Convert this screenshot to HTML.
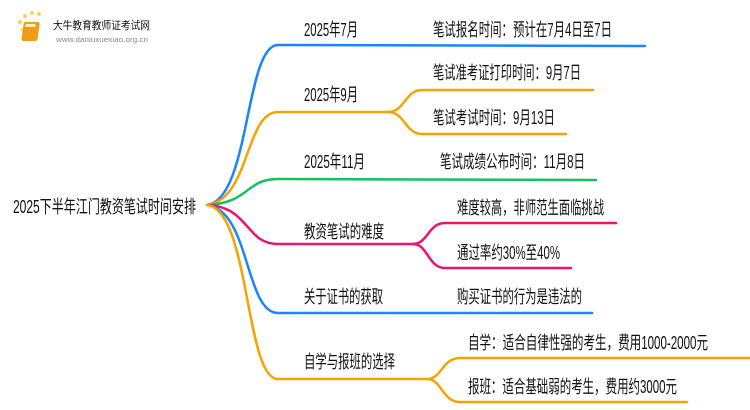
<!DOCTYPE html>
<html><head><meta charset="utf-8"><style>
html,body{margin:0;padding:0;background:#fff;}
svg{display:block}
text{font-family:"Liberation Sans","Noto Sans CJK SC",sans-serif;fill:#111;font-size:18px;}
</style></head><body>
<svg width="750" height="410" viewBox="0 0 750 410" xmlns="http://www.w3.org/2000/svg">
<g fill="none" stroke-width="2.5" stroke-linecap="round">
<path d="M207,205 C250,200 245,45 278,45 L645,46" stroke="#1a85ff"/>
<path d="M207,205 C250,200 245,112 278,112 L388,112" stroke="#f5a300"/>
<path d="M388,112 C405,112 405,90 422,90 L593,90" stroke="#f5a300"/>
<path d="M388,112 C405,112 405,134 422,134 L566,134" stroke="#f5a300"/>
<path d="M207,205 C250,203 245,179 278,179 L596,180" stroke="#16c060"/>
<path d="M207,205 C250,207 245,244 278,244 L413,244" stroke="#f0136c"/>
<path d="M413,244 C428,244 428,223 445,223 L616,223" stroke="#f0136c"/>
<path d="M413,244 C428,244 428,268 445,268 L571,268" stroke="#f0136c"/>
<path d="M207,205 C250,210 245,313 278,313 L592,313" stroke="#1a85ff"/>
<path d="M207,205 C250,210 245,379 278,379 L427,379" stroke="#f5a300"/>
<path d="M427,379 C442,379 442,358 460,358 L750,358" stroke="#f5a300"/>
<path d="M427,379 C442,379 442,402 460,402 L687,402" stroke="#f5a300"/>
</g>
<g>
<circle cx="20" cy="22" r="2" fill="#fbd34d"/><circle cx="25" cy="16" r="2" fill="#fbd34d"/><circle cx="32" cy="13" r="2" fill="#fbd34d"/><circle cx="39" cy="14" r="2" fill="#fbd34d"/><circle cx="22" cy="30" r="1.5" fill="#fbd34d"/><circle cx="24" cy="37" r="1.5" fill="#fbd34d"/>
<rect x="27" y="22" width="16" height="19" rx="2" fill="#f39a16" transform="skewX(-8)"/>
<rect x="29" y="24" width="10" height="3" fill="#fff3c0" transform="skewX(-8)"/>
<text x="53" y="29" style="font-size:11px" textLength="97" lengthAdjust="spacingAndGlyphs">大牛教育教师证考试网</text>
<text x="56" y="42" style="font-size:7px;fill:#888" textLength="92" lengthAdjust="spacingAndGlyphs">www.daniuxuexiao.org.cn</text>
</g>
<g>
<text x="13" y="213" textLength="183" lengthAdjust="spacingAndGlyphs">2025下半年江门教资笔试时间安排</text>
<text x="304" y="36" textLength="54" lengthAdjust="spacingAndGlyphs">2025年7月</text>
<text x="433" y="36" textLength="179" lengthAdjust="spacingAndGlyphs">笔试报名时间：预计在7月4日至7日</text>
<text x="304" y="101" textLength="54" lengthAdjust="spacingAndGlyphs">2025年9月</text>
<text x="433" y="79" textLength="148" lengthAdjust="spacingAndGlyphs">笔试准考证打印时间：9月7日</text>
<text x="433" y="124" textLength="122" lengthAdjust="spacingAndGlyphs">笔试考试时间：9月13日</text>
<text x="304" y="168" textLength="61" lengthAdjust="spacingAndGlyphs">2025年11月</text>
<text x="440" y="168" textLength="145" lengthAdjust="spacingAndGlyphs">笔试成绩公布时间：11月8日</text>
<text x="304" y="238" textLength="80" lengthAdjust="spacingAndGlyphs">教资笔试的难度</text>
<text x="457" y="214" textLength="147" lengthAdjust="spacingAndGlyphs">难度较高，非师范生面临挑战</text>
<text x="457" y="259" textLength="103" lengthAdjust="spacingAndGlyphs">通过率约30%至40%</text>
<text x="304" y="303" textLength="79" lengthAdjust="spacingAndGlyphs">关于证书的获取</text>
<text x="457" y="303" textLength="125" lengthAdjust="spacingAndGlyphs">购买证书的行为是违法的</text>
<text x="304" y="368" textLength="91" lengthAdjust="spacingAndGlyphs">自学与报班的选择</text>
<text x="468" y="349" textLength="240" lengthAdjust="spacingAndGlyphs">自学：适合自律性强的考生，费用1000-2000元</text>
<text x="468" y="393" textLength="209" lengthAdjust="spacingAndGlyphs">报班：适合基础弱的考生，费用约3000元</text>
</g>
</svg>
</body></html>
